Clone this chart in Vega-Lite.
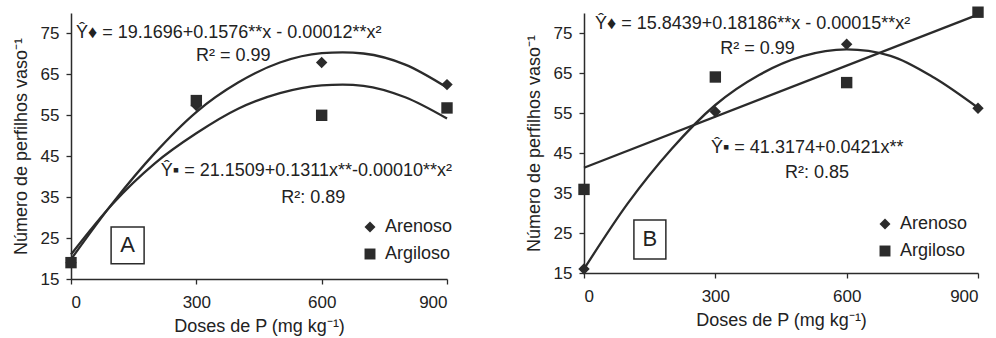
{
  "$schema": "https://vega.github.io/schema/vega-lite/v6.json",
  "background": "white",
  "padding": {"left": 12, "top": 6, "right": 2, "bottom": 4},
  "config": {
    "font": "Liberation Sans",
    "view": {"stroke": null},
    "concat": {"spacing": 72},
    "axis": {
      "grid": false,
      "domainColor": "#2b2b2b",
      "domainWidth": 1.5,
      "tickColor": "#2b2b2b",
      "tickWidth": 1.3,
      "tickSize": 5,
      "labelFont": "Liberation Sans",
      "labelFontSize": 17,
      "labelColor": "#222222",
      "titleFont": "Liberation Sans",
      "titleFontSize": 18,
      "titleFontWeight": "normal",
      "titleColor": "#222222"
    },
    "legend": {
      "labelFont": "Liberation Sans",
      "labelFontSize": 18,
      "labelColor": "#222222",
      "symbolSize": 120,
      "symbolFillColor": "#2b2b2b",
      "symbolStrokeColor": "#2b2b2b",
      "rowPadding": 9,
      "labelOffset": 6
    }
  },
  "datasets": {
    "points": [
      {"panel": "A", "solo": "Arenoso", "dose": 0, "value": 19},
      {"panel": "A", "solo": "Arenoso", "dose": 300, "value": 57.4},
      {"panel": "A", "solo": "Arenoso", "dose": 600, "value": 67.9},
      {"panel": "A", "solo": "Arenoso", "dose": 900, "value": 62.5},
      {"panel": "A", "solo": "Argiloso", "dose": 0, "value": 19},
      {"panel": "A", "solo": "Argiloso", "dose": 300, "value": 58.6},
      {"panel": "A", "solo": "Argiloso", "dose": 600, "value": 55},
      {"panel": "A", "solo": "Argiloso", "dose": 900, "value": 56.8},
      {"panel": "B", "solo": "Arenoso", "dose": 0, "value": 16},
      {"panel": "B", "solo": "Arenoso", "dose": 300, "value": 55.3},
      {"panel": "B", "solo": "Arenoso", "dose": 600, "value": 72.2},
      {"panel": "B", "solo": "Arenoso", "dose": 900, "value": 56.2},
      {"panel": "B", "solo": "Argiloso", "dose": 0, "value": 35.9},
      {"panel": "B", "solo": "Argiloso", "dose": 300, "value": 64},
      {"panel": "B", "solo": "Argiloso", "dose": 600, "value": 62.6},
      {"panel": "B", "solo": "Argiloso", "dose": 900, "value": 80.2}
    ],
    "curves": [
      {"panel": "A", "solo": "Arenoso", "dose": 0, "value": 19.8},
      {"panel": "A", "solo": "Arenoso", "dose": 100, "value": 33.6},
      {"panel": "A", "solo": "Arenoso", "dose": 200, "value": 45.7},
      {"panel": "A", "solo": "Arenoso", "dose": 300, "value": 55.8},
      {"panel": "A", "solo": "Arenoso", "dose": 400, "value": 63.0},
      {"panel": "A", "solo": "Arenoso", "dose": 500, "value": 67.9},
      {"panel": "A", "solo": "Arenoso", "dose": 600, "value": 70.2},
      {"panel": "A", "solo": "Arenoso", "dose": 650, "value": 70.4},
      {"panel": "A", "solo": "Arenoso", "dose": 700, "value": 70.1},
      {"panel": "A", "solo": "Arenoso", "dose": 800, "value": 67.4},
      {"panel": "A", "solo": "Arenoso", "dose": 900, "value": 61.8},
      {"panel": "A", "solo": "Argiloso", "dose": 0, "value": 21.0},
      {"panel": "A", "solo": "Argiloso", "dose": 100, "value": 33.4},
      {"panel": "A", "solo": "Argiloso", "dose": 200, "value": 43.2},
      {"panel": "A", "solo": "Argiloso", "dose": 300, "value": 50.6},
      {"panel": "A", "solo": "Argiloso", "dose": 400, "value": 56.6},
      {"panel": "A", "solo": "Argiloso", "dose": 500, "value": 60.4},
      {"panel": "A", "solo": "Argiloso", "dose": 600, "value": 62.3},
      {"panel": "A", "solo": "Argiloso", "dose": 650, "value": 62.5},
      {"panel": "A", "solo": "Argiloso", "dose": 700, "value": 62.2},
      {"panel": "A", "solo": "Argiloso", "dose": 800, "value": 59.4},
      {"panel": "A", "solo": "Argiloso", "dose": 900, "value": 54.2},
      {"panel": "B", "solo": "Arenoso", "dose": 0, "value": 16.0},
      {"panel": "B", "solo": "Arenoso", "dose": 100, "value": 32.4},
      {"panel": "B", "solo": "Arenoso", "dose": 200, "value": 46.0},
      {"panel": "B", "solo": "Arenoso", "dose": 300, "value": 57.0},
      {"panel": "B", "solo": "Arenoso", "dose": 400, "value": 64.5},
      {"panel": "B", "solo": "Arenoso", "dose": 500, "value": 69.2},
      {"panel": "B", "solo": "Arenoso", "dose": 600, "value": 70.9},
      {"panel": "B", "solo": "Arenoso", "dose": 700, "value": 69.3},
      {"panel": "B", "solo": "Arenoso", "dose": 800, "value": 63.8},
      {"panel": "B", "solo": "Arenoso", "dose": 900, "value": 56.3},
      {"panel": "B", "solo": "Argiloso", "dose": 0, "value": 41.3},
      {"panel": "B", "solo": "Argiloso", "dose": 900, "value": 79.6}
    ],
    "notes": [
      {"panel": "A", "x": 12, "y": 75, "label": "Ŷ♦ = 19.1696+0.1576**x - 0.00012**x²"},
      {"panel": "A", "x": 299, "y": 69.4, "label": "R² = 0.99"},
      {"panel": "A", "x": 215, "y": 41.3, "label": "Ŷ▪ = 21.1509+0.1311x**-0.00010**x²"},
      {"panel": "A", "x": 503, "y": 34.8, "label": "R²: 0.89"},
      {"panel": "B", "x": 25, "y": 77.25, "label": "Ŷ♦ = 15.8439+0.18186**x - 0.00015**x²"},
      {"panel": "B", "x": 311, "y": 71, "label": "R² = 0.99"},
      {"panel": "B", "x": 290, "y": 46.25, "label": "Ŷ▪ = 41.3174+0.0421x**"},
      {"panel": "B", "x": 459, "y": 40, "label": "R²: 0.85"}
    ],
    "boxes": [
      {"panel": "A", "x1": 96, "x2": 175, "y1": 18.7, "y2": 27.7, "xm": 135.5, "ym": 23.2, "letter": "A"},
      {"panel": "B", "x1": 114, "x2": 187, "y1": 18.5, "y2": 28.25, "xm": 150.5, "ym": 23.4, "letter": "B"}
    ]
  },
  "resolve": {"scale": {"shape": "independent"}, "legend": {"shape": "independent"}},
  "hconcat": [
    {
      "width": 376,
      "height": 266,
      "layer": [
        {
          "data": {"name": "curves"},
          "transform": [{"filter": "datum.panel == 'A'"}],
          "mark": {"type": "line", "interpolate": "monotone", "color": "#2b2b2b", "strokeWidth": 2.3},
          "encoding": {
            "x": {"field": "dose", "type": "quantitative", "scale": {"domain": [0, 900], "nice": false}, "axis": {"values": [0, 300, 600, 900], "title": "Doses de P (mg kg⁻¹)", "labelPadding": 10, "titlePadding": 7}},
            "y": {"field": "value", "type": "quantitative", "scale": {"domain": [15, 80], "nice": false, "zero": false}, "axis": {"values": [15, 25, 35, 45, 55, 65, 75], "title": "Número de perfilhos vaso⁻¹", "labelPadding": 7, "titlePadding": 10}},
            "detail": {"field": "solo"}
          }
        },
        {
          "data": {"name": "points"},
          "transform": [{"filter": "datum.panel == 'A'"}],
          "mark": {"type": "point", "filled": true, "opacity": 1, "color": "#2b2b2b", "size": 130},
          "encoding": {
            "x": {"field": "dose", "type": "quantitative"},
            "y": {"field": "value", "type": "quantitative"},
            "shape": {"field": "solo", "type": "nominal", "scale": {"domain": ["Arenoso", "Argiloso"], "range": ["diamond", "square"]}, "legend": {"title": null, "orient": "none", "legendX": 290, "legendY": 205}}
          }
        },
        {
          "data": {"name": "boxes"},
          "transform": [{"filter": "datum.panel == 'A'"}],
          "mark": {"type": "rect", "filled": false, "stroke": "#2b2b2b", "strokeWidth": 1.5},
          "encoding": {
            "x": {"field": "x1", "type": "quantitative"},
            "x2": {"field": "x2"},
            "y": {"field": "y1", "type": "quantitative"},
            "y2": {"field": "y2"}
          }
        },
        {
          "data": {"name": "boxes"},
          "transform": [{"filter": "datum.panel == 'A'"}],
          "mark": {"type": "text", "fontSize": 22, "color": "#222222", "align": "center", "baseline": "middle"},
          "encoding": {
            "x": {"field": "xm", "type": "quantitative"},
            "y": {"field": "ym", "type": "quantitative"},
            "text": {"field": "letter"}
          }
        },
        {
          "data": {"name": "notes"},
          "transform": [{"filter": "datum.panel == 'A'"}],
          "mark": {"type": "text", "fontSize": 18, "color": "#222222", "align": "left", "baseline": "middle"},
          "encoding": {
            "x": {"field": "x", "type": "quantitative"},
            "y": {"field": "y", "type": "quantitative"},
            "text": {"field": "label"}
          }
        }
      ]
    },
    {
      "width": 394,
      "height": 260,
      "layer": [
        {
          "data": {"name": "curves"},
          "transform": [{"filter": "datum.panel == 'B'"}],
          "mark": {"type": "line", "interpolate": "monotone", "color": "#2b2b2b", "strokeWidth": 2.3},
          "encoding": {
            "x": {"field": "dose", "type": "quantitative", "scale": {"domain": [0, 900], "nice": false}, "axis": {"values": [0, 300, 600, 900], "title": "Doses de P (mg kg⁻¹)", "labelPadding": 10, "titlePadding": 7}},
            "y": {"field": "value", "type": "quantitative", "scale": {"domain": [15, 80], "nice": false, "zero": false}, "axis": {"values": [15, 25, 35, 45, 55, 65, 75], "title": "Número de perfilhos vaso⁻¹", "labelPadding": 7, "titlePadding": 10}},
            "detail": {"field": "solo"}
          }
        },
        {
          "data": {"name": "points"},
          "transform": [{"filter": "datum.panel == 'B'"}],
          "mark": {"type": "point", "filled": true, "opacity": 1, "color": "#2b2b2b", "size": 130},
          "encoding": {
            "x": {"field": "dose", "type": "quantitative"},
            "y": {"field": "value", "type": "quantitative"},
            "shape": {"field": "solo", "type": "nominal", "scale": {"domain": ["Arenoso", "Argiloso"], "range": ["diamond", "square"]}, "legend": {"title": null, "orient": "none", "legendX": 292, "legendY": 202}}
          }
        },
        {
          "data": {"name": "boxes"},
          "transform": [{"filter": "datum.panel == 'B'"}],
          "mark": {"type": "rect", "filled": false, "stroke": "#2b2b2b", "strokeWidth": 1.5},
          "encoding": {
            "x": {"field": "x1", "type": "quantitative"},
            "x2": {"field": "x2"},
            "y": {"field": "y1", "type": "quantitative"},
            "y2": {"field": "y2"}
          }
        },
        {
          "data": {"name": "boxes"},
          "transform": [{"filter": "datum.panel == 'B'"}],
          "mark": {"type": "text", "fontSize": 22, "color": "#222222", "align": "center", "baseline": "middle"},
          "encoding": {
            "x": {"field": "xm", "type": "quantitative"},
            "y": {"field": "ym", "type": "quantitative"},
            "text": {"field": "letter"}
          }
        },
        {
          "data": {"name": "notes"},
          "transform": [{"filter": "datum.panel == 'B'"}],
          "mark": {"type": "text", "fontSize": 18, "color": "#222222", "align": "left", "baseline": "middle"},
          "encoding": {
            "x": {"field": "x", "type": "quantitative"},
            "y": {"field": "y", "type": "quantitative"},
            "text": {"field": "label"}
          }
        }
      ]
    }
  ]
}
